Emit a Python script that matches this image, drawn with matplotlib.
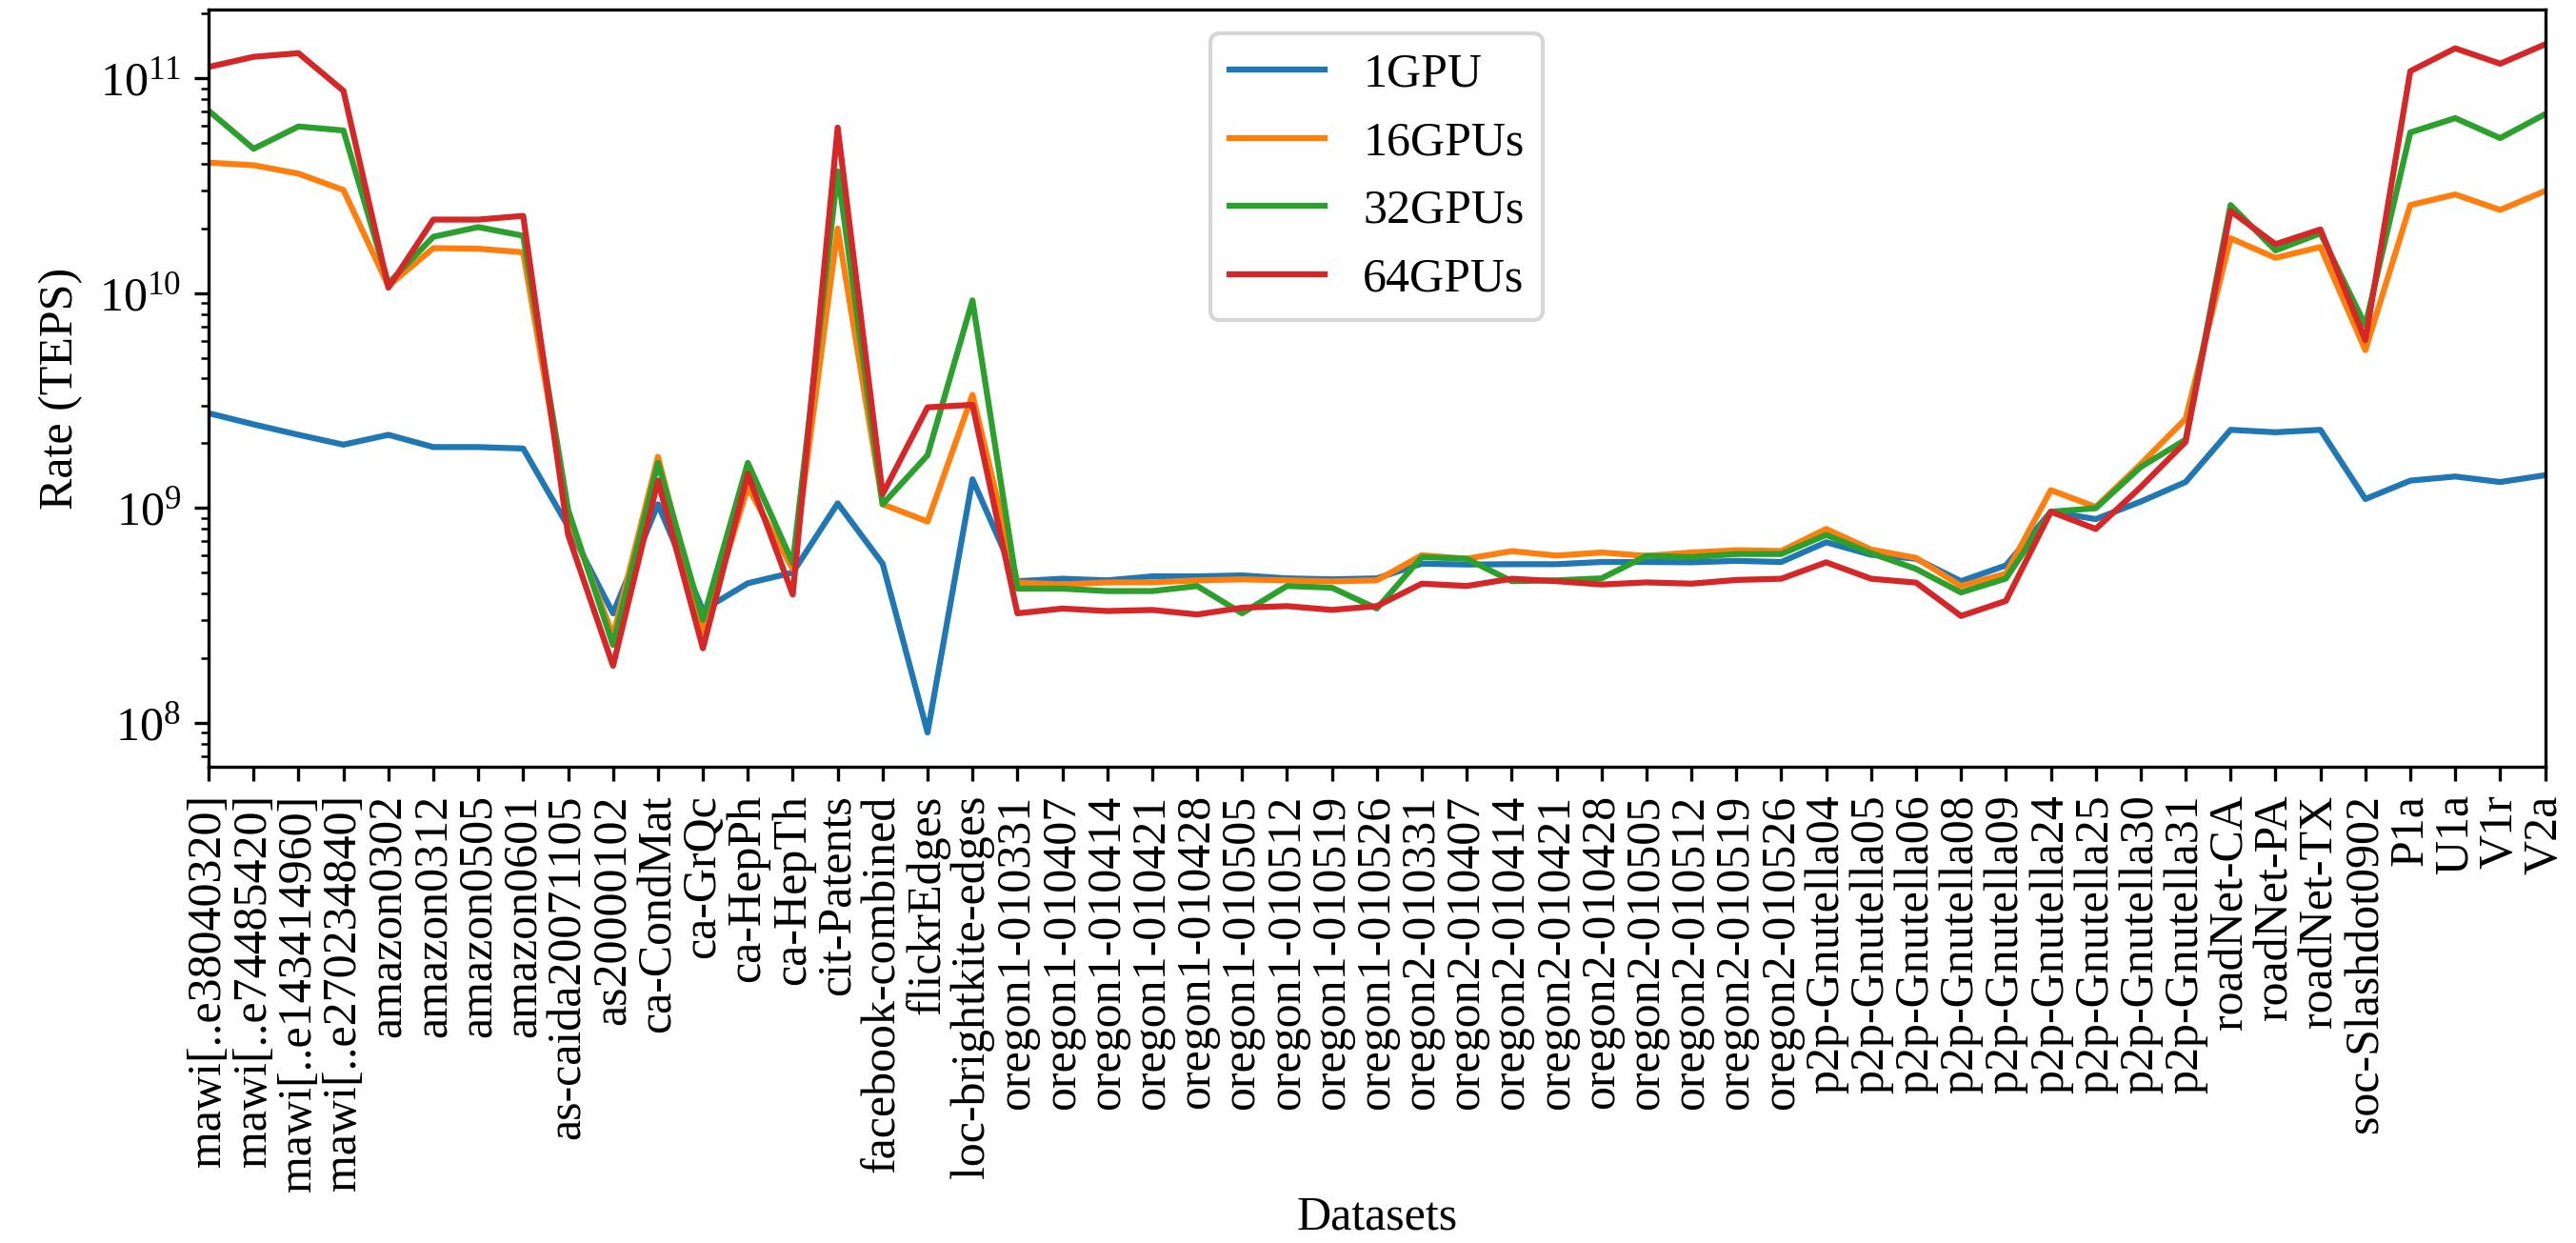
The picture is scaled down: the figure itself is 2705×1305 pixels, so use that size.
import matplotlib
matplotlib.use('Agg')
import matplotlib.pyplot as plt

plt.rcParams['font.family'] = ['Liberation Serif', 'DejaVu Serif']
plt.rcParams['mathtext.fontset'] = 'stix'
plt.rcParams['font.size'] = 12

# dataset names
datasets = ['mawi[..e38040320]', 'mawi[..e74485420]', 'mawi[..e143414960]', 'mawi[..e270234840]',
            'amazon0302', 'amazon0312', 'amazon0505', 'amazon0601', 'as-caida20071105', 'as20000102',
            'ca-CondMat', 'ca-GrQc', 'ca-HepPh', 'ca-HepTh', 'cit-Patents', 'facebook-combined',
            'flickrEdges', 'loc-brightkite-edges',
            'oregon1-010331', 'oregon1-010407', 'oregon1-010414', 'oregon1-010421', 'oregon1-010428',
            'oregon1-010505', 'oregon1-010512', 'oregon1-010519', 'oregon1-010526',
            'oregon2-010331', 'oregon2-010407', 'oregon2-010414', 'oregon2-010421', 'oregon2-010428',
            'oregon2-010505', 'oregon2-010512', 'oregon2-010519', 'oregon2-010526',
            'p2p-Gnutella04', 'p2p-Gnutella05', 'p2p-Gnutella06', 'p2p-Gnutella08', 'p2p-Gnutella09',
            'p2p-Gnutella24', 'p2p-Gnutella25', 'p2p-Gnutella30', 'p2p-Gnutella31',
            'roadNet-CA', 'roadNet-PA', 'roadNet-TX', 'soc-Slashdot0902', 'P1a', 'U1a', 'V1r', 'V2a']

# rates in TEPS
gpu1 = [2.76e9, 2.45e9, 2.19e9, 1.97e9, 2.19e9, 1.92e9, 1.92e9, 1.89e9, 8.2e8, 3.23e8,
        1.04e9, 3.34e8, 4.46e8, 5.0e8, 1.05e9, 5.5e8, 9.0e7, 1.36e9,
        4.56e8, 4.68e8, 4.6e8, 4.8e8, 4.8e8, 4.85e8, 4.7e8, 4.65e8, 4.7e8,
        5.5e8, 5.45e8, 5.47e8, 5.47e8, 5.6e8, 5.6e8, 5.58e8, 5.67e8, 5.6e8,
        6.92e8, 6.05e8, 5.8e8, 4.56e8, 5.4e8, 9.6e8, 8.87e8, 1.07e9, 1.32e9,
        2.31e9, 2.25e9, 2.31e9, 1.1e9, 1.34e9, 1.4e9, 1.32e9, 1.42e9]
gpu16 = [4.05e10, 3.94e10, 3.6e10, 3.02e10, 1.08e10, 1.62e10, 1.61e10, 1.55e10, 9.2e8, 2.54e8,
         1.73e9, 2.63e8, 1.25e9, 5.2e8, 2.0e10, 1.04e9, 8.64e8, 3.36e9,
         4.49e8, 4.4e8, 4.5e8, 4.5e8, 4.6e8, 4.65e8, 4.6e8, 4.55e8, 4.6e8,
         6.02e8, 5.8e8, 6.29e8, 6.0e8, 6.2e8, 5.98e8, 6.2e8, 6.35e8, 6.3e8,
         7.98e8, 6.4e8, 5.85e8, 4.33e8, 4.94e8, 1.21e9, 1.01e9, 1.6e9, 2.6e9,
         1.8e10, 1.46e10, 1.64e10, 5.43e9, 2.57e10, 2.88e10, 2.44e10, 2.99e10]
gpu32 = [7.07e10, 4.7e10, 5.97e10, 5.72e10, 1.11e10, 1.83e10, 2.03e10, 1.85e10, 9.8e8, 2.3e8,
         1.62e9, 3.01e8, 1.62e9, 5.54e8, 3.69e10, 1.04e9, 1.76e9, 9.25e9,
         4.21e8, 4.21e8, 4.1e8, 4.1e8, 4.33e8, 3.23e8, 4.33e8, 4.25e8, 3.4e8,
         5.9e8, 5.8e8, 4.56e8, 4.6e8, 4.7e8, 5.98e8, 5.9e8, 6.1e8, 6.1e8,
         7.49e8, 6.15e8, 5.2e8, 4.04e8, 4.69e8, 9.6e8, 9.97e8, 1.55e9, 2.08e9,
         2.57e10, 1.58e10, 1.9e10, 7.08e9, 5.6e10, 6.53e10, 5.27e10, 6.81e10]
gpu64 = [1.13e11, 1.26e11, 1.31e11, 8.75e10, 1.06e10, 2.2e10, 2.2e10, 2.29e10, 7.5e8, 1.84e8,
         1.34e9, 2.22e8, 1.44e9, 3.95e8, 5.9e10, 1.16e9, 2.94e9, 3.02e9,
         3.23e8, 3.4e8, 3.31e8, 3.35e8, 3.19e8, 3.43e8, 3.49e8, 3.35e8, 3.49e8,
         4.44e8, 4.33e8, 4.68e8, 4.56e8, 4.4e8, 4.5e8, 4.44e8, 4.62e8, 4.68e8,
         5.58e8, 4.68e8, 4.49e8, 3.14e8, 3.69e8, 9.6e8, 7.98e8, 1.25e9, 2.03e9,
         2.41e10, 1.69e10, 1.98e10, 6.04e9, 1.08e11, 1.38e11, 1.17e11, 1.44e11]

series = [('1GPU', gpu1), ('16GPUs', gpu16), ('32GPUs', gpu32), ('64GPUs', gpu64)]

fig, ax = plt.subplots(figsize=(2705 / 300, 1305 / 300), dpi=300)
fig.subplots_adjust(left=0.081, right=0.988, top=0.992, bottom=0.383)

for name, vals in series:
    ax.plot(datasets, vals, label=name, linewidth=1.5)

ax.set_yscale('log')
ax.set_xlim(0, len(datasets) - 1)
ax.tick_params(axis='x', labelrotation=90)
ax.set_xlabel('Datasets', labelpad=1)
ax.set_ylabel('Rate (TEPS)')
ax.legend(loc='upper center')

fig.savefig('out.png', dpi=300)
